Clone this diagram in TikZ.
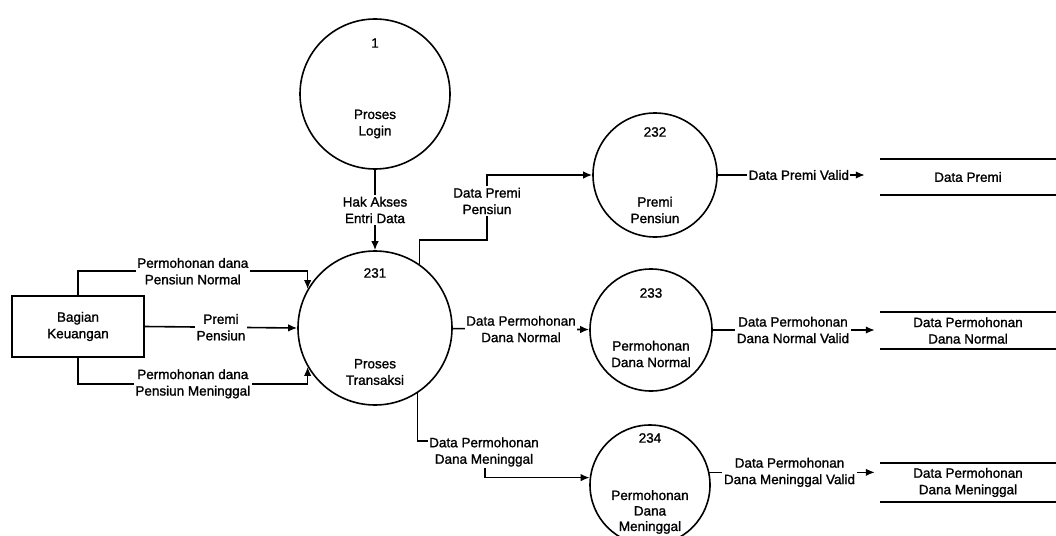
\documentclass[tikz,border=0pt]{standalone}
\usepackage{fontspec}
\setmainfont{Liberation Sans}[BoldFont=Liberation Sans, BoldFeatures={FakeBold=1.3}]
\usetikzlibrary{arrows.meta,calc}
\begin{document}
\begin{tikzpicture}[x=1pt,y=-1pt,
  every node/.style={font=\fontsize{13.5}{16.5}\selectfont\bfseries, align=center},
  proc/.style={draw, circle, line width=1.6pt, inner sep=0pt},
  ent/.style={draw, rectangle, line width=1.6pt, minimum width=132pt, minimum height=61pt},
  store/.style={rectangle, minimum width=176pt},
  lbl/.style={fill=white, inner sep=1.5pt},
  txt/.style={inner sep=0pt},
  flow/.style={line width=1.6pt, -{Latex[length=9pt,width=7.5pt]}},
  plain/.style={line width=1.6pt}
]
\useasboundingbox (0,0) rectangle (1056,535);

% processes
\node[proc, minimum size=150pt] (c1) at (375,94) {};
\node[txt] (c1n) at (375,43) {1};
\node[txt] (c1t) at (375,124) {Proses\\Login};

\node[proc, minimum size=154pt] (c231) at (375,328) {};
\node[txt] (c231n) at (375,273) {231};
\node[txt] (c231t) at (375,372) {Proses\\Transaksi};

\node[proc, minimum size=124pt] (c232) at (655,175) {};
\node[txt] (c232n) at (655,132) {232};
\node[txt] (c232t) at (655,210) {Premi\\Pensiun};

\node[proc, minimum size=122pt] (c233) at (651,330) {};
\node[txt] (c233n) at (651,293) {233};
\node[txt] (c233t) at (651,354) {Permohonan\\Dana Normal};

\node[proc, minimum size=120pt] (c234) at (650,485) {};
\node[txt] (c234n) at (650,438) {234};
\node[txt, font=\fontsize{13.5}{15.5}\selectfont\bfseries] (c234t) at (650,512) {Permohonan\\Dana\\Meninggal};

% external entity
\node[ent] (bk) at (78,326.5) {Bagian\\Keuangan};

% data stores
\node[store, minimum height=36pt] (ds1) at (968,177) {Data Premi};
\node[store, minimum height=37pt] (ds2) at (968,330.5) {Data Permohonan\\Dana Normal};
\node[store, minimum height=39pt] (ds3) at (968,482.5) {Data Permohonan\\Dana Meninggal};
\foreach \s in {ds1,ds2,ds3}{
  \draw[plain] (\s.north west) -- (\s.north east);
  \draw[plain] (\s.south west) -- (\s.south east);
}

% flows
\draw[flow] (c1) -- (c231) node[lbl, pos=0.5] (f0) {Hak Akses\\Entri Data};

\draw[flow] (bk.north) -- ++(0,-24) -| (c231.150)
  node[lbl, pos=0.25] (f1) {Permohonan dana\\Pensiun Normal};
\draw[flow] (bk.east) -- (c231.west)
  node[lbl, midway] (f2) {Premi\\Pensiun};
\draw[flow] (bk.south) -- ++(0,26) -| (c231.210)
  node[lbl, pos=0.25] (f3) {Permohonan dana\\Pensiun Meninggal};

\coordinate (j1) at (487,240);
\draw[flow] (c231.55) |- (j1) |- (c232.west);
\node[lbl] (f4) at (487,201) {Data Premi\\Pensiun};

\draw[flow] (c231) -- (c233)
  node[lbl, midway] (f5) {Data Permohonan\\Dana Normal};

\coordinate (j2) at (485,441);
\draw[flow] (c231.-57) |- (j2) |- (c234.173);
\node[lbl] (f6) at (484,452) {Data Permohonan\\Dana Meninggal};

\draw[flow, shorten >=15pt] (c232.east) -- (c232.east -| ds1.west)
  node[lbl, pos=0.5] (f7) {Data Premi Valid};
\draw[flow, shorten >=5pt] (c233.east) -- (c233.east -| ds2.west)
  node[lbl, pos=0.48] (f8) {Data Permohonan\\Dana Normal Valid};
\draw[flow, shorten >=5pt] (c234.12) -- (c234.12 -| ds3.west)
  node[lbl, pos=0.47] (f9) {Data Permohonan\\Dana Meninggal Valid};
\end{tikzpicture}
\end{document}
